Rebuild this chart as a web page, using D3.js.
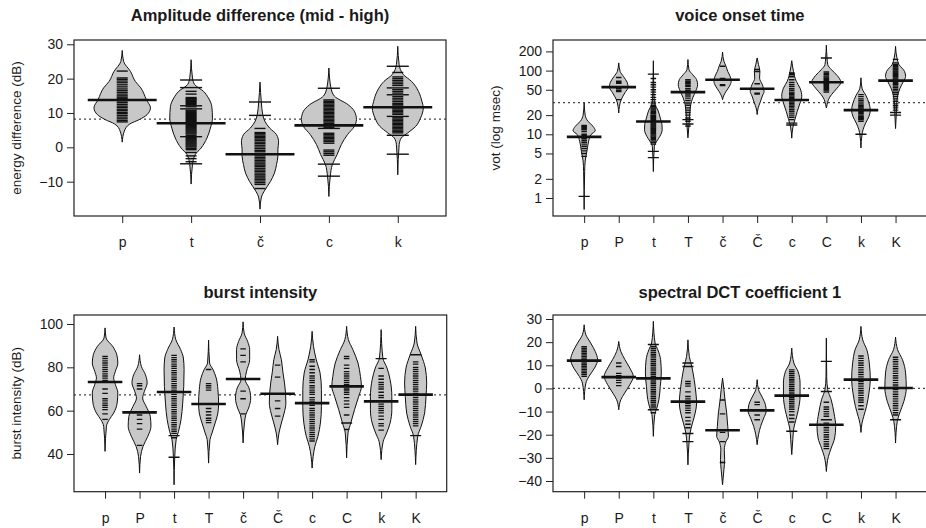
<!DOCTYPE html>
<html><head><meta charset="utf-8">
<script src="https://cdnjs.cloudflare.com/ajax/libs/d3/7.8.5/d3.min.js"></script>
<style>
body{margin:0;background:#fff}
svg{display:block}
text{font-family:"Liberation Sans",Arial,Helvetica,sans-serif;fill:#1a1a1a}
</style>
</head><body>
<svg id="chart" width="926" height="528"></svg>
<script>
// ---------------- DATA ----------------
const cats5 = ["p","t","č","c","k"];
const cats10 = ["p","P","t","T","č","Č","c","C","k","K"];

// Panel 1: Amplitude difference (mid - high)
const ampTicks = [-10,0,10,20,30];
const ampOverall = 8.2;
const ampMeans = [13.8, 7.0, -2.0, 6.4, 11.65];
const ampShapes = [
 [[28.2,0],[25,0.02],[22.1,0.12],[19.2,0.19],[17.3,0.27],[13.9,0.35],[11.5,0.41],[9.5,0.36],[8.1,0.25],[6.8,0.11],[4.7,0.03],[1.5,0]],
 [[25.5,0],[20.2,0.02],[18.3,0.05],[16.3,0.18],[14.4,0.25],[11.9,0.3],[8.5,0.31],[5.6,0.28],[2.7,0.23],[-0.2,0.145],[-2.1,0.06],[-5,0.02],[-10.7,0]],
 [[19,0],[13,0.02],[9.5,0.04],[7.6,0.07],[5.6,0.14],[3.7,0.24],[1.5,0.27],[-0.5,0.26],[-2.5,0.26],[-5,0.24],[-7.5,0.21],[-10,0.15],[-12.8,0.06],[-14.5,0.02],[-18,0]],
 [[23.1,0],[17.3,0.03],[14.9,0.08],[12.4,0.28],[10.5,0.37],[8.1,0.4],[6.1,0.37],[3.7,0.27],[0.8,0.18],[-2.1,0.12],[-5,0.05],[-8.4,0.02],[-14.3,0]],
 [[29.4,0],[24.1,0.02],[21.2,0.08],[19.2,0.2],[16.3,0.3],[13.4,0.35],[11.5,0.37],[8.5,0.33],[6.1,0.26],[4.2,0.145],[2.7,0.05],[0.8,0.02],[-8,0]]
];
const ampLines = [
 [22.2,20.2,19.8,19.3,18.8,18.2,17.6,17.0,16.5,16.0,15.5,15.0,14.6,14.2,13.5,13.0,12.5,12.0,11.6,11.1,10.7,10.2,9.8,9.3,8.8,8.3,7.8,7.4],
 [19.6,19.6,17.4,17.4,16.3,15.5,14.5,14.2,14,13.7,13.4,13.1,12.8,12.5,12.1,12.1,11.8,11.2,11.2,10.8,10.5,10.2,9.9,9.6,9.3,9,8.7,8.4,8.1,7.8,7.5,7.2,6.9,6.6,6.3,6,5.7,5.4,5.1,4.8,4.5,4.2,3.9,3.5,3.1,3.1,2.8,2.5,2.2,1.9,1.6,1.3,1,0.7,0.4,0.1,-0.3,-0.7,-1.5,-2.5,-3.3,-4.2,-4.8,-4.8],
 [13.2,13.2,9.3,9.3,5.5,4.3,4,3.6,3.2,2.8,2.4,2,1.5,1.1,0.6,0.1,-0.4,-0.9,-1.3,-2,-2.5,-3,-3.4,-3.9,-4.3,-4.8,-5.2,-5.6,-6.1,-6.6,-7,-7.5,-8,-8.4,-8.9,-9.3,-9.8,-10.3,-10.8,-12],
 [17.2,17.2,13.8,13.4,13,12.6,12.2,11.8,11.4,11,10.6,10.2,9.8,9.4,9,8.6,8.2,7.8,7.4,7,6.6,6.2,5.7,5.5,5.5,4.1,3.7,3.3,2.9,2.5,2.1,1.7,1.2,-0.8,-1.3,-1.8,-2.3,-4.9,-4.9,-8.4,-8.4],
 [23.6,23.6,21.8,20.5,20,19.5,19,18.5,18,17.3,17.3,16.8,16.3,15.8,15.3,15.3,14.8,14.3,13.8,13.3,12.8,12.4,12,11.6,11.2,10.8,10.4,10,9.6,9,9,8.6,8.2,7.8,7.4,7,6.6,6.2,5.8,5.4,5,4.6,4.2,3.5,3.5,-2,-2]
];

// Panel 2: voice onset time (log msec)
const votTicks = [1,2,5,10,20,50,100,200];
const votOverall = 31.4;
const votMeans = [9.1, 55, 15.9, 46, 72, 52, 34.5, 65.5, 24, 69.5];
const votShapes = [
 [[31,0],[20,0.03],[16,0.11],[13.3,0.26],[11.4,0.32],[9.9,0.2],[7.8,0.13],[5.4,0.08],[3.8,0.03],[2.6,0.015],[0.66,0]],
 [[132,0],[97,0.04],[81,0.135],[66,0.24],[55,0.27],[45,0.18],[35,0.07],[27.5,0.02],[21.6,0]],
 [[143,0],[60,0.01],[35,0.025],[29,0.05],[24,0.13],[18,0.2],[14.2,0.25],[11.8,0.255],[9.3,0.19],[7.8,0.1],[6.5,0.03],[2.6,0]],
 [[149,0],[103,0.03],[86,0.14],[72,0.25],[60,0.28],[47,0.22],[37,0.135],[29,0.08],[20,0.05],[14,0.03],[8.8,0]],
 [[196,0],[140,0.04],[117,0.1],[97,0.15],[81,0.22],[68,0.25],[57,0.2],[47,0.1],[40,0.03],[35,0]],
 [[158,0],[124,0.04],[97,0.08],[76,0.07],[60,0.15],[47,0.2],[40,0.15],[31,0.08],[26,0.03],[20.4,0]],
 [[143,0],[97,0.05],[68,0.13],[53,0.24],[39.5,0.29],[31,0.24],[23,0.16],[17,0.09],[12.6,0.03],[8.7,0]],
 [[250,0],[158,0.02],[124,0.04],[103,0.15],[84,0.31],[65.5,0.42],[53,0.31],[42,0.15],[35,0.06],[29,0.02],[26,0]],
 [[77,0],[53,0.03],[40,0.15],[31,0.23],[24,0.27],[19,0.23],[15,0.135],[11.8,0.06],[9.8,0.03],[6.1,0]],
 [[240,0],[158,0.04],[124,0.1],[97,0.26],[81,0.29],[68,0.23],[53,0.13],[40,0.06],[29,0.03],[20,0.02],[12.3,0]]
];
const votLines = [
 [13.8,13.3,12.8,12.3,11.8,11.0,10.0,9.5,9.0,8.5,8.0,7.5,7.0,6.5,6.0,5.5,5.0,4.5,1.06,1.06],
 [78,68,65,63,56,52,49,47,35],
 [88,88,75,65,60,55,50,46,42,38,35,32,30,28,27,26,25,24,23,22,21.5,21,20,19.5,19,18.5,18,17.5,17,16.5,16,15.5,15,14.5,14,13.5,13,12.6,12.2,11.8,11.4,11,10.6,10.2,9.8,9.4,9,8.6,8.2,7.8,7.4,7,5.4,5.4,4.3,4.3],
 [72,68,65,62,59,56,52,49,46,43,40,37,34,31,28.5,26,24,22,20,18,17,17,16,14.5,14.5,13.5],
 [117,75,73,60,58],
 [104,97,62,44,43],
 [92,90,86,80,72,65,60,56,52,49,46,44,42,40,38,36.5,35,33.5,32,30.5,29,27.5,26,24.5,23,21.5,20,18.5,17,15,15,14,14],
 [158,158,95,90,86,82,79,76,73,70,68,66,64,62,60,58,56,54,52,50,48,46],
 [42,39,36,34,32,30,28.5,27,26,25,24,23,22,21,20,19,18.5,18,17.5,17,16,10,10],
 [150,132,125,120,115,110,106,102,98,95,92,89,86,83,80,77,74,71,68,65,62,60,57,54,51,48,45,42,39,36,33,30,28,26,24,22,22,20,20]
];

// Panel 3: burst intensity (dB)
const burstTicks = [40,60,80,100];
const burstOverall = 67.3;
const burstMeans = [73.2, 59.2, 68.6, 63.1, 74.6, 67.8, 63.5, 71.2, 64.3, 67.4];
const burstShapes = [
 [[98.2,0],[93.5,0.03],[89.7,0.22],[85.8,0.34],[82,0.37],[78.2,0.3],[75.1,0.25],[72,0.3],[68.2,0.37],[63.5,0.35],[58.9,0.25],[55.8,0.12],[52.8,0.04],[41.2,0]],
 [[85.8,0],[80.5,0.05],[76.6,0.17],[72.8,0.22],[68.9,0.14],[65.8,0.09],[62,0.19],[57.4,0.31],[52.8,0.33],[48.2,0.24],[43.5,0.1],[38.9,0.03],[31.2,0]],
 [[98.6,0],[92.8,0.05],[88.2,0.19],[84.3,0.27],[78.9,0.29],[71.2,0.28],[63.5,0.25],[55.8,0.2],[50.5,0.13],[46.6,0.06],[38.9,0.02],[25.8,0]],
 [[92.5,0],[82,0.03],[78.9,0.13],[75.1,0.22],[69.7,0.27],[63.5,0.29],[58.9,0.27],[54.3,0.19],[49.7,0.1],[46.6,0.04],[35.8,0]],
 [[101,0],[95.8,0.03],[92,0.13],[88.2,0.19],[83.5,0.19],[78.2,0.1],[74.3,0.06],[70.5,0.17],[65.8,0.22],[61.2,0.16],[58.2,0.08],[54.3,0.04],[45.1,0]],
 [[94.3,0],[88.2,0.04],[83.5,0.11],[78.2,0.15],[72.8,0.2],[68.2,0.23],[63.5,0.24],[58.9,0.19],[54.3,0.11],[49.7,0.04],[44.3,0]],
 [[96.6,0],[89.7,0.04],[83.5,0.12],[77.4,0.23],[69.7,0.27],[62,0.27],[54.3,0.24],[48.2,0.17],[43.5,0.08],[38.9,0.03],[33.5,0]],
 [[98.9,0],[92.8,0.05],[88.2,0.18],[82,0.33],[75.8,0.4],[71.2,0.43],[66.6,0.35],[60.5,0.23],[54.3,0.12],[49.7,0.04],[38.2,0]],
 [[97.4,0],[84.3,0.05],[79.7,0.17],[74.3,0.26],[66.6,0.31],[60.5,0.31],[54.3,0.26],[49.7,0.16],[45.8,0.06],[37.4,0]],
 [[98.9,0],[91.2,0.04],[85.8,0.16],[79.7,0.28],[72.8,0.32],[66.6,0.3],[58.9,0.26],[52.8,0.16],[48.2,0.06],[35.1,0]]
];
const burstLines = [
 [85,84,83,82,81,80,79,78,77,76,75,74,70,68,65.5,64.5,63.5,62.5,61.5,60.5,58.5,56],
 [72.5,71.5,70,58,56,54,51.5,44],
 [85.5,84.5,83.5,82.5,81.5,80.5,79.5,78.5,77.5,76.5,75.5,74.5,73.5,72.5,71.5,70.5,69.5,68.5,67.5,66.5,65.5,64.5,63.5,62.5,61.5,60.5,59.5,58.5,57.5,56.5,55.5,54.5,53.5,52.5,51.5,50.5,49.5,48.5,48.5,47.5,38.5,38.5],
 [79,72.5,71.5,70.5,69.5,61,59.5,58,56.5,55.5,54.5],
 [88.5,85.5,82.5,69,65.5,58.5],
 [81,75.5,67.5,64.5,61,57.5],
 [83.5,82.5,80.5,79,77.5,76,75,74,73,71.5,70.5,69.5,68.5,67.5,66,65,64,62.5,61,60,59,58,57,56,55,54,53,52,51,50,49,48,47,46],
 [85,84,81,79.5,78,77,76,75,74,73,72,71,70,69.5,68.5,67.5,66,64.5,63,61.5,58,54.3,54.3,51.3],
 [84,84,79.5,76,74.5,73,72,71,70,68.5,67,66,64.5,63,62,61,60,59,57.5,56,54,53,51],
 [85.8,85.8,82.5,81.5,80,79,78,77,76,75,74,73,72,71,70,69,68,67,66,65,64,63,62,61,60,59,58,57,56,55,54,53,48.5,48.5]
];

// Panel 4: spectral DCT coefficient 1
const dctTicks = [-40,-30,-20,-10,0,10,20,30];
const dctOverall = 0;
const dctMeans = [12, 4.9, 4.35, -5.7, -18.1, -9.5, -3.1, -15.7, 3.8, 0.2];
const dctShapes = [
 [[27.5,0],[23.2,0.05],[19.6,0.19],[16,0.32],[12.4,0.39],[8.8,0.3],[5.2,0.14],[2.3,0.05],[-4.9,0]],
 [[20.3,0],[16,0.06],[12.4,0.18],[8.8,0.32],[5.2,0.42],[1.6,0.32],[-2,0.17],[-4.9,0.06],[-9.2,0]],
 [[29,0],[19.6,0.05],[16.7,0.13],[12.4,0.21],[6.7,0.23],[0.9,0.2],[-4.9,0.16],[-8.5,0.1],[-11.3,0.04],[-20.7,0]],
 [[21,0],[13.8,0.04],[9.5,0.11],[3.8,0.18],[-2,0.23],[-6.3,0.25],[-10.6,0.21],[-15,0.13],[-19.3,0.06],[-23.6,0.03],[-33,0]],
 [[4.5,0],[-0.5,0.04],[-4.9,0.07],[-10.6,0.12],[-16.4,0.15],[-20.7,0.17],[-22.9,0.1],[-26.5,0.05],[-30.8,0.06],[-35.1,0.04],[-41.6,0]],
 [[3.8,0],[-0.5,0.04],[-4.2,0.16],[-7,0.24],[-9.9,0.26],[-12.8,0.19],[-16.4,0.1],[-20,0.04],[-24.3,0]],
 [[17.4,0],[11,0.06],[7.4,0.18],[2.3,0.24],[-3.4,0.24],[-9.2,0.19],[-13.5,0.12],[-17.1,0.06],[-22.2,0.03],[-28.6,0]],
 [[21.8,0],[5,0.01],[-0.5,0.04],[-4.9,0.14],[-10.6,0.22],[-16.4,0.27],[-21.4,0.24],[-25.8,0.14],[-29.4,0.06],[-35.9,0]],
 [[26.8,0],[21,0.05],[16.7,0.17],[11,0.24],[3.8,0.27],[-2,0.23],[-7.8,0.16],[-12.1,0.08],[-15,0.03],[-19,0]],
 [[22.2,0],[16.7,0.06],[12.4,0.2],[6.7,0.29],[0.2,0.31],[-5.6,0.24],[-10.6,0.12],[-14.2,0.05],[-23.6,0]]
];
const dctLines = [
 [18,17.3,16.6,15.9,15.2,14.5,13.8,13.1,12.4,11.7,11,10.3,9.6,8.9,8.2,7.5,6.8,6,5.2],
 [11,9.5,6.5,5.5,4.5,3.5,2.5,1.2],
 [19,19,18,17.2,16.4,15.6,14.8,14,13.2,12.4,11.6,10.8,10,9.2,8.4,7.6,6.8,6,5.2,4.4,3.6,2.8,2,1.2,0.4,-0.4,-1.2,-2,-2.8,-3.6,-4.4,-5.2,-6,-6.8,-7.6,-8.4,-9.2,-9.2,-10.5],
 [11,11,9.5,9.5,3,2,1,-1.5,-3.5,-4.5,-5.5,-6.5,-7.5,-8.5,-9.5,-10.5,-12.5,-14,-15.5,-17,-19.5,-19.5,-23,-23],
 [-5,-11,-19,-23,-32],
 [-6,-7,-9.5,-11.5,-13.5],
 [8,7.2,6.4,5.6,4.8,4,3.2,2.4,1.6,0.8,0,-0.8,-1.6,-2.4,-3.2,-4,-4.8,-5.6,-6.4,-7.2,-8,-9,-10,-11.5,-13,-14.5,-18.5,-18.5],
 [11.7,11.7,-1.3,-1.3,-6,-8,-9,-10,-11,-12,-13.5,-13.5,-15,-16,-17,-18,-19,-20,-21,-22,-23,-24,-25,-26],
 [14,13,12,11,10,9,8,7,6,5,4,3,2,1,0,-1,-2,-3,-4,-5,-6,-7.5,-9],
 [13.5,12.5,11.5,10.5,9.5,8.5,7.5,6.5,5.5,4.5,3.5,2.5,1.5,0.5,-0.5,-1.5,-2.5,-3.5,-4.5,-5.5,-6.5,-7.5,-8.5,-9.5,-10.5,-11.5,-13.5,-13.5]
];

// ---------------- DRAWING ----------------
const svg = d3.select("#chart");
const FILL = "#c8c8c8";
const FONT = '"Liberation Sans", Arial, sans-serif';

function panel(o){
  const n = o.cats.length;
  const c = (n + 1) / 2, half = 0.54 * n;
  const x = d3.scaleLinear().domain([c - half, c + half]).range([o.left, o.right]);
  const y = (o.log ? d3.scaleLog() : d3.scaleLinear()).domain(o.ydom).range([o.bottom, o.top]);
  const g = svg.append("g");

  const clipId = "clip" + o.id;
  svg.append("clipPath").attr("id", clipId).append("rect")
    .attr("x", o.left).attr("y", o.top).attr("width", o.right - o.left).attr("height", o.bottom - o.top);
  const inner = g.append("g").attr("clip-path", `url(#${clipId})`);

  // overall average (dotted)
  inner.append("line")
    .attr("x1", o.left).attr("x2", o.right)
    .attr("y1", y(o.overall)).attr("y2", y(o.overall))
    .attr("stroke", "#444").attr("stroke-width", 1.3).attr("stroke-dasharray", "2,3");

  // beans
  const area = d3.area()
    .y(d => y(d[0]))
    .curve(d3.curveMonotoneY);
  o.shapes.forEach((s, i) => {
    const pos = i + 1;
    inner.append("path")
      .datum(s)
      .attr("d", area.x0(d => x(pos - d[1])).x1(d => x(pos + d[1])))
      .attr("fill", FILL).attr("stroke", "#111").attr("stroke-width", 1);
  });

  // bean lines
  const ll = 0.08;
  o.lines.forEach((vals, i) => {
    const pos = i + 1;
    const counts = d3.rollups(vals, v => v.length, d => d);
    inner.selectAll(null).data(counts).enter().append("line")
      .attr("x1", d => x(pos - ll * d[1])).attr("x2", d => x(pos + ll * d[1]))
      .attr("y1", d => y(d[0])).attr("y2", d => y(d[0]))
      .attr("stroke", "#111").attr("stroke-width", 1.4);
  });

  // bean averages
  inner.selectAll(null).data(o.means).enter().append("line")
    .attr("x1", (d, i) => x(i + 1 - 0.5)).attr("x2", (d, i) => x(i + 1 + 0.5))
    .attr("y1", d => y(d)).attr("y2", d => y(d))
    .attr("stroke", "#111").attr("stroke-width", 2.6);

  // box
  g.append("rect")
    .attr("x", o.left).attr("y", o.top).attr("width", o.right - o.left).attr("height", o.bottom - o.top)
    .attr("fill", "none").attr("stroke", "#222").attr("stroke-width", 1.2);

  // y axis
  const ya = d3.axisLeft(y).tickValues(o.ticks).tickSize(7).tickPadding(4).tickFormat(d3.format("d"));
  const yg = g.append("g").attr("transform", `translate(${o.left},0)`).call(ya);
  yg.select(".domain").remove();
  yg.selectAll("line").attr("stroke", "#222");
  yg.selectAll("text").attr("font-size", 14).attr("fill", "#1a1a1a").style("font-family", FONT);

  // x axis
  const xa = d3.axisBottom(x).tickValues(d3.range(1, n + 1)).tickSize(7).tickPadding(14)
    .tickFormat(d => o.cats[d - 1]);
  const xg = g.append("g").attr("transform", `translate(0,${o.bottom})`).call(xa);
  xg.select(".domain").remove();
  xg.selectAll("line").attr("stroke", "#222");
  xg.selectAll("text").attr("font-size", 14).attr("fill", "#1a1a1a").style("font-family", FONT);

  // title
  g.append("text").attr("x", (o.left + o.right) / 2).attr("y", o.titleY)
    .attr("text-anchor", "middle").attr("font-size", 16.5).attr("font-weight", "bold").text(o.title);

  // y label
  if (o.ylabel) {
    g.append("text")
      .attr("transform", `translate(${o.ylabelX},${(o.top + o.bottom) / 2}) rotate(-90)`)
      .attr("text-anchor", "middle").attr("font-size", 13.5).text(o.ylabel);
  }
}

panel({id:1, cats: cats5, shapes: ampShapes, lines: ampLines, means: ampMeans, overall: ampOverall,
  ticks: ampTicks, ydom: [-20, 31.25], left: 74, right: 446, top: 40, bottom: 216,
  title: "Amplitude difference (mid - high)", titleY: 21, ylabel: "energy difference (dB)", ylabelX: 21});

panel({id:2, cats: cats10, shapes: votShapes, lines: votLines, means: votMeans, overall: votOverall,
  ticks: votTicks, ydom: [0.5216, 302.2], log: true, left: 553, right: 926.7, top: 40, bottom: 216,
  title: "voice onset time", titleY: 21, ylabel: "vot (log msec)", ylabelX: 500});

panel({id:3, cats: cats10, shapes: burstShapes, lines: burstLines, means: burstMeans, overall: burstOverall,
  ticks: burstTicks, ydom: [22.6, 104.15], left: 74, right: 446.7, top: 315, bottom: 491.7,
  title: "burst intensity", titleY: 298, ylabel: "burst intensity (dB)", ylabelX: 21});

panel({id:4, cats: cats10, shapes: dctShapes, lines: dctLines, means: dctMeans, overall: dctOverall,
  ticks: dctTicks, ydom: [-44.62, 31.73], left: 553, right: 926.7, top: 315, bottom: 491.7,
  title: "spectral DCT coefficient 1", titleY: 298, ylabel: null});
</script>
</body></html>
